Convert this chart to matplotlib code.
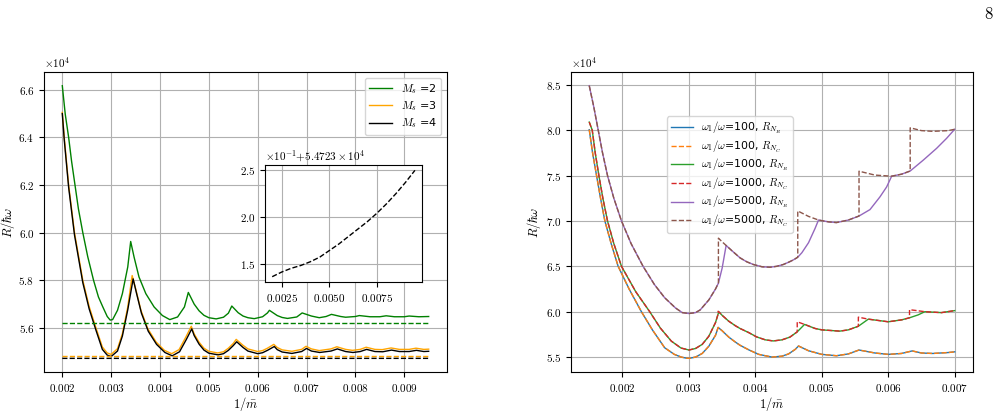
import matplotlib
matplotlib.use("Agg")
import matplotlib.pyplot as plt
import numpy as np

plt.rcParams["mathtext.fontset"] = "cm"
plt.rcParams["font.family"] = "serif"
plt.rcParams["font.serif"] = ["cmr10", "DejaVu Serif"]
plt.rcParams["axes.formatter.use_mathtext"] = True
plt.rcParams["axes.unicode_minus"] = False

# ---- left panel data (values in units of 1e4) ----
ms_labels = ["$M_s$ =2", "$M_s$ =3", "$M_s$ =4"]

x_ms2 = [0.0020, 0.00206, 0.00213, 0.00219, 0.00226, 0.00233, 0.00242, 0.00252, 0.00264, 0.00274, 0.00283,
         0.00292, 0.00298, 0.00303, 0.00313, 0.00323, 0.00334, 0.0034,
         0.00347, 0.00357, 0.00371, 0.00388, 0.00405, 0.0042, 0.00436, 0.0045, 0.00458,
         0.0047, 0.0048, 0.0049, 0.0050, 0.00515, 0.0053, 0.0054, 0.00547,
         0.0056, 0.0057, 0.0058, 0.00593, 0.0061, 0.0062, 0.00624,
         0.0064, 0.0065, 0.00661, 0.0068, 0.00691,
         0.0071, 0.00726, 0.0074, 0.00751,
         0.0077, 0.0078, 0.0080, 0.00808,
         0.0083, 0.0085, 0.00863,
         0.0088, 0.0090, 0.0091, 0.0093, 0.0095]
y_ms2 = [6.617, 6.498, 6.40, 6.30, 6.20, 6.10, 6.00, 5.90, 5.80, 5.73, 5.688,
         5.648, 5.633, 5.635, 5.674, 5.744, 5.856, 5.963,
         5.897, 5.814, 5.744, 5.688, 5.652, 5.635, 5.646, 5.688, 5.749,
         5.70, 5.672, 5.653, 5.643, 5.638, 5.645, 5.662, 5.692,
         5.664, 5.650, 5.643, 5.639, 5.647, 5.663, 5.674,
         5.652, 5.644, 5.640, 5.646, 5.663,
         5.650, 5.643, 5.648, 5.657,
         5.648, 5.645, 5.648, 5.652,
         5.647, 5.647, 5.651,
         5.647, 5.647, 5.650, 5.647, 5.648]

x_ms3 = [0.0020, 0.00204, 0.00213, 0.00225, 0.00242, 0.00255, 0.00269, 0.00282, 0.00292, 0.0030,
         0.00313, 0.00323, 0.00334, 0.00343,
         0.00351, 0.00361, 0.00375, 0.00392, 0.00409, 0.00424, 0.00439, 0.00453, 0.00464,
         0.0047, 0.0048, 0.0049, 0.0050, 0.00518, 0.0053, 0.0054, 0.0055, 0.00556,
         0.0057, 0.0058, 0.0060, 0.0061, 0.0062, 0.00633,
         0.0064, 0.0065, 0.0067, 0.0069, 0.00699,
         0.0071, 0.00726, 0.0075, 0.00762,
         0.0078, 0.00794, 0.0081, 0.00822,
         0.0084, 0.00855, 0.00873,
         0.0089, 0.0091, 0.00924, 0.0094, 0.0095]
y_ms3 = [6.505, 6.40, 6.20, 6.00, 5.80, 5.69, 5.60, 5.52, 5.495, 5.489,
         5.513, 5.576, 5.688, 5.820,
         5.758, 5.674, 5.597, 5.541, 5.506, 5.492, 5.509, 5.562, 5.607,
         5.575, 5.540, 5.515, 5.502, 5.495, 5.500, 5.515, 5.535, 5.552,
         5.527, 5.512, 5.501, 5.505, 5.515, 5.531,
         5.518, 5.508, 5.502, 5.510, 5.523,
         5.512, 5.505, 5.512, 5.521,
         5.510, 5.506, 5.510, 5.519,
         5.510, 5.509, 5.516,
         5.510, 5.510, 5.515, 5.510, 5.511]

x_ms4 = [0.0020, 0.00204, 0.00213, 0.00225, 0.00242, 0.00255, 0.00269, 0.00282, 0.00292, 0.0030,
         0.00313, 0.00323, 0.00334, 0.00345,
         0.00352, 0.00362, 0.00376, 0.00393, 0.0041, 0.00425, 0.0044, 0.00454, 0.00465,
         0.0047, 0.0048, 0.0049, 0.0050, 0.00519, 0.0053, 0.0054, 0.0055, 0.00557,
         0.0057, 0.0058, 0.0060, 0.0061, 0.0062, 0.00634,
         0.0064, 0.0065, 0.0067, 0.0069, 0.0070,
         0.0071, 0.00727, 0.0075, 0.00763,
         0.0078, 0.00795, 0.0081, 0.00823,
         0.0084, 0.00856, 0.00874,
         0.0089, 0.0091, 0.00925, 0.0094, 0.0095]
y_ms4 = [6.500, 6.39, 6.19, 5.99, 5.79, 5.68, 5.59, 5.51, 5.486, 5.480,
         5.503, 5.566, 5.676, 5.806,
         5.745, 5.662, 5.586, 5.531, 5.497, 5.483, 5.500, 5.552, 5.596,
         5.568, 5.532, 5.507, 5.494, 5.487, 5.492, 5.506, 5.526, 5.542,
         5.518, 5.503, 5.492, 5.496, 5.506, 5.522,
         5.509, 5.499, 5.493, 5.501, 5.514,
         5.503, 5.497, 5.503, 5.512,
         5.501, 5.497, 5.501, 5.510,
         5.501, 5.500, 5.507,
         5.501, 5.501, 5.506, 5.501, 5.502]

# dashed reference levels
x_lim = [0.0020, 0.0025, 0.0030, 0.0035, 0.0040, 0.0045, 0.0050, 0.0055,
         0.0060, 0.0065, 0.0070, 0.0075, 0.0080, 0.0085, 0.0090, 0.0095]
lim_ms2 = [5.621] * len(x_lim)
lim_ms3 = [5.4836] * len(x_lim)
# Ms=4 level, shown magnified in the inset: 54723 + 0.1*value
lim_ms4_fine = [1.36, 1.41, 1.45, 1.48, 1.52, 1.57, 1.64, 1.71,
                1.79, 1.87, 1.95, 2.04, 2.14, 2.25, 2.37, 2.50]
lim_ms4 = 54723 + 0.1 * np.array(lim_ms4_fine)

# ---- right panel data ----
labels_r = [r"$\omega_1/\omega$=100, $R_{N_R}$", r"$\omega_1/\omega$=100, $R_{N_C}$",
            r"$\omega_1/\omega$=1000, $R_{N_R}$", r"$\omega_1/\omega$=1000, $R_{N_C}$",
            r"$\omega_1/\omega$=5000, $R_{N_R}$", r"$\omega_1/\omega$=5000, $R_{N_C}$"]

x_100 = [0.0015, 0.00155, 0.00161, 0.00167, 0.001735, 0.00183, 0.001935, 0.0021, 0.002285, 0.00245,
         0.002635, 0.00278, 0.002885, 0.00295, 0.0030,
         0.0031, 0.0032, 0.0033, 0.0034, 0.00344,
         0.0035, 0.0036, 0.0037, 0.00377, 0.0039, 0.00405, 0.00425, 0.0044, 0.0045, 0.0046, 0.00465,
         0.0048, 0.0050, 0.00522, 0.0054, 0.00556, 0.0058, 0.0060, 0.0062, 0.00636,
         0.0065, 0.00667, 0.0069, 0.0070]
y_100 = [8.005, 7.75, 7.50, 7.25, 7.00, 6.75, 6.50, 6.25, 6.00, 5.80,
         5.603, 5.53, 5.50, 5.49, 5.486,
         5.50, 5.54, 5.62, 5.74, 5.827,
         5.79, 5.72, 5.665, 5.63, 5.58, 5.53, 5.50, 5.51, 5.535, 5.585, 5.622,
         5.57, 5.53, 5.515, 5.535, 5.578, 5.545, 5.53, 5.54, 5.568,
         5.545, 5.54, 5.55, 5.558]

x_1000_nr = [0.0015, 0.001545, 0.00159, 0.001645, 0.001705, 0.001775, 0.00187, 0.001985, 0.0022, 0.00241,
             0.00257, 0.002735, 0.00288, 0.0030,
             0.0031, 0.0032, 0.0033, 0.0034, 0.00345,
             0.0035, 0.0036, 0.0037, 0.00377, 0.0039, 0.00402, 0.00415, 0.00427, 0.0044, 0.00452, 0.00463, 0.00474,
             0.0049, 0.0050, 0.00527, 0.0054, 0.00555, 0.0057, 0.0060, 0.0062, 0.00632, 0.00645, 0.00655,
             0.0068, 0.0070]
y_1000_nr = [8.089, 8.00, 7.75, 7.50, 7.25, 7.00, 6.75, 6.50, 6.22, 6.00,
             5.82, 5.676, 5.60, 5.578,
             5.595, 5.64, 5.73, 5.88, 6.00,
             5.96, 5.895, 5.845, 5.815, 5.77, 5.722, 5.69, 5.678, 5.69, 5.72, 5.778, 5.86,
             5.815, 5.80, 5.786, 5.80, 5.84, 5.918, 5.889, 5.91, 5.933, 5.965, 6.00,
             5.99, 6.012]
x_1000_nc = [0.0015, 0.001545, 0.00159, 0.001645, 0.001705, 0.001775, 0.00187, 0.001985, 0.0022, 0.00241,
             0.00257, 0.002735, 0.00288, 0.0030,
             0.0031, 0.0032, 0.0033, 0.0034, 0.00344, 0.00344,
             0.0035, 0.0036, 0.0037, 0.00377, 0.0039, 0.00402, 0.00415, 0.00427, 0.0044, 0.00452, 0.00463, 0.00463,
             0.00474, 0.0049, 0.0050, 0.00527, 0.0054, 0.00555, 0.00555, 0.0057, 0.0060, 0.0062, 0.00632, 0.00632,
             0.0064, 0.00655, 0.0068, 0.0070]
y_1000_nc = [8.089, 8.00, 7.75, 7.50, 7.25, 7.00, 6.75, 6.50, 6.22, 6.00,
             5.82, 5.676, 5.60, 5.578,
             5.595, 5.64, 5.73, 5.88, 5.975, 6.005,
             5.96, 5.895, 5.845, 5.815, 5.77, 5.722, 5.69, 5.678, 5.69, 5.72, 5.778, 5.889,
             5.86, 5.815, 5.80, 5.786, 5.80, 5.84, 5.94, 5.918, 5.889, 5.91, 5.933, 6.022,
             6.015, 6.00, 5.99, 6.012]

x_5000_nr = [0.0015, 0.00157, 0.001635, 0.0017, 0.001775, 0.00187, 0.001985, 0.00213, 0.00231, 0.00248,
             0.002635, 0.0028, 0.0029, 0.0030, 0.0031, 0.00317, 0.0033, 0.0034, 0.003444, 0.0035, 0.00356,
             0.00365, 0.00377, 0.00387, 0.00397, 0.0041, 0.00422, 0.00432, 0.00442, 0.0045, 0.00457, 0.004638,
             0.0047, 0.0048, 0.0049, 0.00495,
             0.0051, 0.00522, 0.0054, 0.00556, 0.005725, 0.005875, 0.005976, 0.006051, 0.0062, 0.00633,
             0.006527, 0.006728, 0.006878, 0.0070]
y_5000_nr = [8.49, 8.25, 8.00, 7.75, 7.50, 7.25, 7.00, 6.75, 6.50, 6.30,
             6.154, 6.04, 5.99, 5.98, 5.99, 6.02, 6.13, 6.25, 6.315, 6.48, 6.73,
             6.67, 6.593, 6.55, 6.52, 6.495, 6.49, 6.50, 6.52, 6.545, 6.57, 6.60,
             6.65, 6.76, 6.92, 7.01,
             6.99, 6.982, 7.01, 7.054, 7.125, 7.265, 7.375, 7.493, 7.515, 7.55,
             7.67, 7.80, 7.91, 8.01]
x_5000_nc = [0.0015, 0.00157, 0.001635, 0.0017, 0.001775, 0.00187, 0.001985, 0.00213, 0.00231, 0.00248,
             0.002635, 0.0028, 0.0029, 0.0030, 0.0031, 0.00317, 0.0033, 0.0034, 0.003444, 0.003444, 0.0035, 0.00356,
             0.00365, 0.00377, 0.00387, 0.00397, 0.0041, 0.00422, 0.00432, 0.00442, 0.0045, 0.00457, 0.004638,
             0.004638, 0.0048, 0.00495,
             0.0051, 0.00522, 0.0054, 0.00556, 0.00556, 0.0058, 0.006051, 0.0062, 0.00633, 0.00633,
             0.0065, 0.00667, 0.0069, 0.0070]
y_5000_nc = [8.49, 8.25, 8.00, 7.75, 7.50, 7.25, 7.00, 6.75, 6.50, 6.30,
             6.154, 6.04, 5.99, 5.98, 5.99, 6.02, 6.13, 6.25, 6.315, 6.81, 6.77, 6.73,
             6.67, 6.593, 6.55, 6.52, 6.495, 6.49, 6.50, 6.52, 6.545, 6.57, 6.60,
             7.11, 7.05, 7.01,
             6.99, 6.982, 7.01, 7.054, 7.548, 7.505, 7.493, 7.515, 7.55, 8.026,
             7.995, 7.987, 7.995, 8.01]

E4 = 1e4
fig = plt.figure(figsize=(10.04, 4.12), dpi=100)

# left panel
ax1 = fig.add_axes([0.0438, 0.0971, 0.4014, 0.728])
ax1.plot(x_ms2, np.array(y_ms2) * E4, color="green", lw=1.0, label=ms_labels[0])
ax1.plot(x_ms3, np.array(y_ms3) * E4, color="orange", lw=1.0, label=ms_labels[1])
ax1.plot(x_ms4, np.array(y_ms4) * E4, color="black", lw=1.0, label=ms_labels[2])
ax1.plot(x_lim, np.array(lim_ms2) * E4, "--", color="green", lw=1.0)
ax1.plot(x_lim, np.array(lim_ms3) * E4, "--", color="orange", lw=1.0)
ax1.plot(x_lim, lim_ms4, "--", color="black", lw=1.0)
ax1.grid(True)
ax1.set_xlabel(r"$1/\bar{m}$", fontsize=9, labelpad=1)
ax1.set_ylabel(r"$R/\hbar\omega$", fontsize=9)
ax1.yaxis.set_label_coords(-0.068, 0.5)
ax1.tick_params(labelsize=8)
ax1.ticklabel_format(axis="y", style="sci", scilimits=(0, 0))
ax1.yaxis.get_offset_text().set_fontsize(8)
ax1.legend(loc="upper right", prop={"family": "DejaVu Sans", "size": 8},
           labelspacing=0.3, handlelength=2.0)

# inset
axin = fig.add_axes([0.264, 0.3155, 0.1564, 0.284])
axin.plot(x_lim, lim_ms4, "--", color="black", lw=1.0)
axin.grid(True)
axin.tick_params(labelsize=8)
axin.ticklabel_format(axis="y", style="sci", scilimits=(0, 0))
axin.yaxis.get_offset_text().set_fontsize(8)

# right panel
ax2 = fig.add_axes([0.5687, 0.0971, 0.4004, 0.728])
ax2.plot(x_100, np.array(y_100) * E4, color="C0", lw=1.0, label=labels_r[0])
ax2.plot(x_100, np.array(y_100) * E4, "--", color="C1", lw=1.0, label=labels_r[1])
ax2.plot(x_1000_nr, np.array(y_1000_nr) * E4, color="C2", lw=1.0, label=labels_r[2])
ax2.plot(x_1000_nc, np.array(y_1000_nc) * E4, "--", color="C3", lw=1.0, label=labels_r[3])
ax2.plot(x_5000_nr, np.array(y_5000_nr) * E4, color="C4", lw=1.0, label=labels_r[4])
ax2.plot(x_5000_nc, np.array(y_5000_nc) * E4, "--", color="C5", lw=1.0, label=labels_r[5])
ax2.grid(True)
ax2.set_xlabel(r"$1/\bar{m}$", fontsize=9, labelpad=1)
ax2.set_ylabel(r"$R/\hbar\omega$", fontsize=9)
ax2.yaxis.set_label_coords(-0.07, 0.5)
ax2.tick_params(labelsize=8)
ax2.ticklabel_format(axis="y", style="sci", scilimits=(0, 0))
ax2.yaxis.get_offset_text().set_fontsize(8)
ax2.legend(loc="upper left", bbox_to_anchor=(0.226, 0.87),
           prop={"family": "DejaVu Sans", "size": 7.8}, labelspacing=0.22,
           handlelength=2.0, borderpad=0.35)

fig.text(0.989, 0.965, "8", fontsize=12, ha="right", va="center")

fig.savefig("out.png", dpi=100)
